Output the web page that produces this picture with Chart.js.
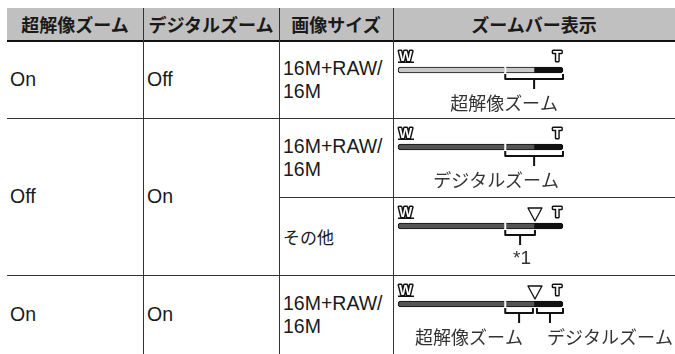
<!DOCTYPE html>
<html>
<head>
<meta charset="utf-8">
<script src="https://cdn.jsdelivr.net/npm/chart.js@4"></script>
<style>
  html, body { margin: 0; padding: 0; background: #fff; }
  #page { position: relative; width: 675px; height: 354px; overflow: hidden;
    font-family: "Liberation Sans", "Noto Sans CJK JP", sans-serif; color: #1a1a1a; }
  .cell { position: absolute; display: flex; align-items: center; box-sizing: border-box; }
  .head { justify-content: center; font-family: "Noto Sans CJK JP", sans-serif; font-weight: bold; font-size: 18px; }
  .body { font-size: 19.5px; line-height: 23px; white-space: pre-line; }
  .jp { font-family: "Noto Sans CJK JP", sans-serif; font-size: 17px; }
  .line { position: absolute; background: #333; }
  canvas { position: absolute; }
</style>
</head>
<body>
<div id="page"></div>
<script>
// table text
const headers = ['超解像ズーム', 'デジタルズーム', '画像サイズ', 'ズームバー表示'];
const superRes = ['On', 'Off', 'On'];
const digitalZoom = ['Off', 'On', 'On'];
const imageSizes = ['16M+RAW/\n16M', '16M+RAW/\n16M', 'その他', '16M+RAW/\n16M'];

// zoom bar: W → gap, gap → ▽, ▽ → T (share of the bar)
const zoomSegments = [65, 18, 17];
const lightBar = [true, false, false, false];
const markerAt = [null, null, 83, 83];
const bracketSpans = [[[65, 100]], [[65, 100]], [[65, 83]], [[65, 83], [83, 100]]];
const bracketLabels = [['超解像ズーム'], ['デジタルズーム'], ['*1'], ['超解像ズーム', 'デジタルズーム']];

// layout
const colX = [7, 143, 279, 393, 675];
const rowY = [41, 118, 197, 275, 354];
const labelShift = [[-30], [-38], [2], [-50, 60]];

const page = document.getElementById('page');
function addDiv(cls, x, y, w, h, text, extra) {
  const d = document.createElement('div');
  d.className = cls;
  Object.assign(d.style, { left: x + 'px', top: y + 'px', width: w + 'px', height: h + 'px' }, extra || {});
  if (text != null) d.textContent = text;
  page.appendChild(d);
  return d;
}

// header
addDiv('line', 7, 8, 668, 32, null, { background: '#c0c0c0' });
headers.forEach((h, i) => addDiv('cell head', colX[i], 8, colX[i + 1] - colX[i], 32, h));

// grid lines
addDiv('line', 7, 40, 668, 2, null, { background: '#111' });
[143, 279, 393].forEach(x => addDiv('line', x, 8, 1, 346));
addDiv('line', 7, 118, 668, 1);
addDiv('line', 279, 197, 396, 1);
addDiv('line', 7, 275, 668, 1);

// first two columns (row 2 spans two sub rows)
const spanRows = [[rowY[0], rowY[1]], [rowY[1], rowY[3]], [rowY[3], rowY[4]]];
spanRows.forEach((r, i) => {
  addDiv('cell body', colX[0] + 3, r[0], 130, r[1] - r[0], superRes[i]);
  addDiv('cell body', colX[1] + 4, r[0], 130, r[1] - r[0], digitalZoom[i]);
});
imageSizes.forEach((s, i) => {
  const d = addDiv('cell body', colX[2] + 4, rowY[i], 108, rowY[i + 1] - rowY[i], s);
  if (/[^\x00-\x7f]/.test(s)) d.classList.add('jp');
});

// zoom bar decorations
const zoomMarks = {
  id: 'zoomMarks',
  afterDatasetsDraw(chart, args, opts) {
    const ctx = chart.ctx;
    const xs = chart.scales.x;
    const a = chart.chartArea;
    const yc = (a.top + a.bottom) / 2;
    const px = v => xs.getPixelForValue(v);
    ctx.save();

    // gap between optical and extended zoom
    ctx.fillStyle = '#fff';
    ctx.fillRect(px(zoomSegments[0]) - 1, yc - 4, 2, 8);

    // W / T as outlined letters
    ctx.font = 'bold 14px "Liberation Sans"';
    ctx.textBaseline = 'alphabetic';
    ctx.lineJoin = 'round';
    ctx.lineWidth = 3;
    ctx.strokeStyle = '#111';
    ctx.fillStyle = '#fff';
    ctx.textAlign = 'left';
    ctx.strokeText('W', px(0) + 1, yc - 9.5);
    ctx.fillText('W', px(0) + 1, yc - 9.5);
    ctx.textAlign = 'right';
    ctx.strokeText('T', px(100) - 1.5, yc - 9.5);
    ctx.fillText('T', px(100) - 1.5, yc - 9.5);
    ctx.fillStyle = '#111';
    ctx.fillRect(px(0), yc - 8.5, 16, 1.5);

    // ▽ marker
    if (opts.marker != null) {
      const mx = px(opts.marker);
      ctx.beginPath();
      ctx.moveTo(mx - 7, yc - 18);
      ctx.lineTo(mx + 7, yc - 18);
      ctx.lineTo(mx, yc - 5);
      ctx.closePath();
      ctx.fillStyle = '#fff';
      ctx.fill();
      ctx.lineWidth = 1.3;
      ctx.stroke();
    }

    // brackets and captions
    ctx.strokeStyle = '#111';
    ctx.lineWidth = 2;
    ctx.lineCap = 'butt';
    opts.spans.forEach((s, i) => {
      let x1 = px(s[0]), x2 = px(s[1]);
      if (i > 0 && opts.spans[i - 1][1] === s[0]) x1 += 2;
      if (i < opts.spans.length - 1 && opts.spans[i + 1][0] === s[1]) x2 -= 2;
      const mid = (x1 + x2) / 2;
      ctx.beginPath();
      ctx.moveTo(x1, yc + 4);
      ctx.lineTo(x1, yc + 9);
      ctx.lineTo(x2, yc + 9);
      ctx.lineTo(x2, yc + 4);
      ctx.moveTo(mid, yc + 9);
      ctx.lineTo(mid, yc + 19);
      ctx.stroke();

      const txt = opts.labels[i];
      ctx.font = /[^\x00-\x7f]/.test(txt) ? '18px "Noto Sans CJK JP"' : '19px "Liberation Sans"';
      ctx.fillStyle = '#333';
      ctx.textAlign = 'center';
      ctx.textBaseline = 'middle';
      ctx.fillText(txt, mid + opts.shift[i], yc + 33);
    });
    ctx.restore();
  }
};

const segColors = light => [light ? '#c8c8c8' : '#555', light ? '#c8c8c8' : '#555', '#111'];

for (let r = 0; r < 4; r++) {
  const cv = document.createElement('canvas');
  const top = rowY[r] + 1;
  const h = rowY[r + 1] - rowY[r] - 1;
  cv.width = 281;
  cv.height = h;
  cv.style.left = '394px';
  cv.style.top = top + 'px';
  page.appendChild(cv);
  const colors = segColors(lightBar[r]);
  new Chart(cv, {
    type: 'bar',
    data: {
      labels: ['zoom'],
      datasets: zoomSegments.map((v, i) => ({
        data: [v],
        backgroundColor: colors[i],
        borderColor: '#111',
        borderWidth: 1,
        borderSkipped: false,
        borderRadius: i === 0 ? { topLeft: 3, bottomLeft: 3 } : i === zoomSegments.length - 1 ? { topRight: 3, bottomRight: 3 } : 0,
        barThickness: 6,
        clip: false
      }))
    },
    options: {
      indexAxis: 'y',
      responsive: false,
      animation: false,
      events: [],
      layout: { padding: { left: 4, right: 112, top: 23, bottom: h - 33 } },
      scales: {
        x: { stacked: true, min: 0, max: 100, display: false },
        y: { stacked: true, display: false }
      },
      plugins: {
        legend: { display: false },
        tooltip: { enabled: false },
        zoomMarks: { marker: markerAt[r], spans: bracketSpans[r], labels: bracketLabels[r], shift: labelShift[r] }
      }
    },
    plugins: [zoomMarks]
  });
}
</script>
</body>
</html>
